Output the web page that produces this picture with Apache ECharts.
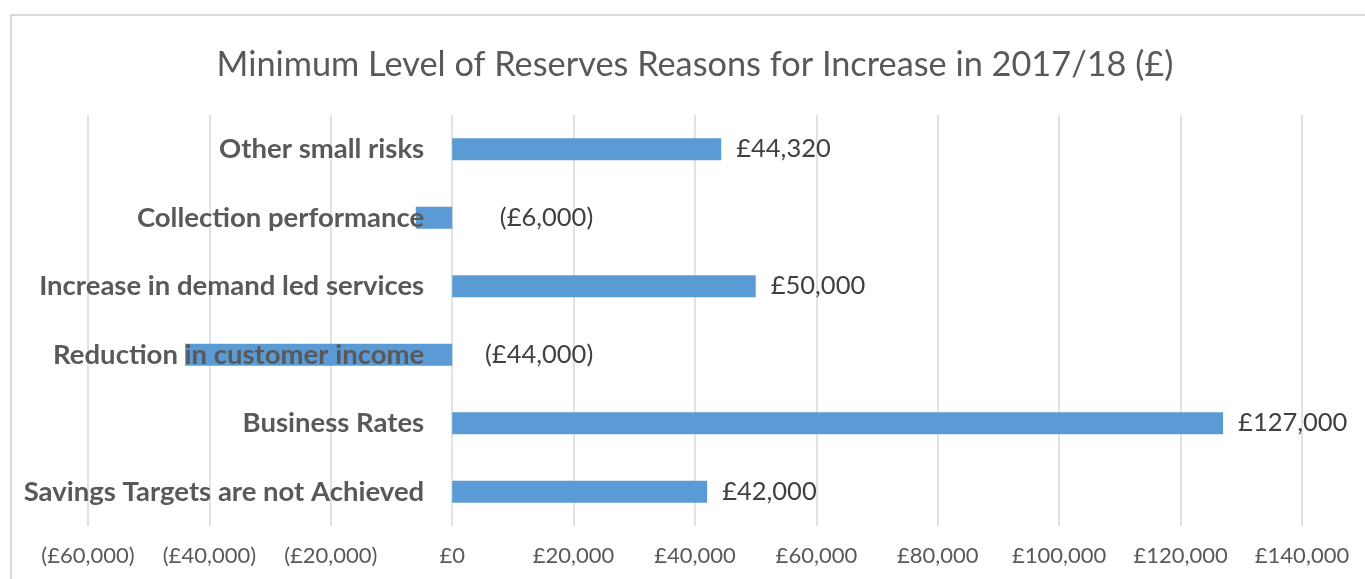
<!DOCTYPE html>
<html><head><meta charset="utf-8">
<script src="https://cdn.jsdelivr.net/npm/echarts@6/dist/echarts.min.js"></script>
<style>html,body{margin:0;padding:0;background:#fff}#c{width:1365px;height:579px}</style>
</head><body><div id="c"></div>
<script>
const categories = ["Savings Targets are not Achieved","Business Rates","Reduction in customer income","Increase in demand led services","Collection performance","Other small risks"];
const values = [42000,127000,-44000,50000,-6000,44320];
const tickMin = -60000, tickMax = 140000, tickStep = 20000;
const titleText = "Minimum Level of Reserves Reasons for Increase in 2017/18 (£)";

function money(v){
  const s = '£' + Math.abs(v).toLocaleString('en-GB');
  return v < 0 ? '(' + s + ')' : s;
}
const FONT = 'Lato';
const GRID_LEFT = 88, GRID_RIGHT = 63;
const chart = echarts.init(document.getElementById('c'), null, {renderer:'canvas'});
const plotW = 1365 - GRID_LEFT - GRID_RIGHT;
const zeroOffset = -plotW * (0 - tickMin) / (tickMax - tickMin);
chart.setOption({
  animation:false,
  textStyle:{fontFamily:FONT},
  graphic:[{type:'rect',shape:{x:11,y:15,width:1362,height:600},style:{fill:'none',stroke:'#d9d9d9',lineWidth:2},silent:true}],
  title:{text:titleText,left:690,top:43,textAlign:'center',textStyle:{fontFamily:FONT,fontSize:34.3,fontWeight:'normal',color:'#595959'}},
  grid:{left:GRID_LEFT,right:GRID_RIGHT,top:115,bottom:53,containLabel:false,outerBoundsMode:'none'},
  xAxis:{type:'value',min:tickMin,max:tickMax,interval:tickStep,
    axisLine:{show:false},axisTick:{show:false},
    splitLine:{show:true,lineStyle:{color:'#d9d9d9',width:1.5}},
    axisLabel:{formatter:money,color:'#595959',fontSize:22,margin:19,fontFamily:FONT}},
  yAxis:{type:'category',data:categories,z:5,offset:zeroOffset,
    axisLine:{show:false,onZero:false},
    axisTick:{show:false},
    axisLabel:{color:'#595959',fontSize:27.5,fontWeight:'bold',margin:28,fontFamily:FONT}},
  series:[{type:'bar',barWidth:22,itemStyle:{color:'#5b9bd5'},z:1,
    data:values.map(v=>({value:v,label: v<0 ? {position:'right',align:'right',distance:141} : {position:'right',distance:15}})),
    label:{show:true,formatter:p=>money(p.value),color:'#404040',fontSize:25.5,fontFamily:FONT}}]
});
</script></body></html>
